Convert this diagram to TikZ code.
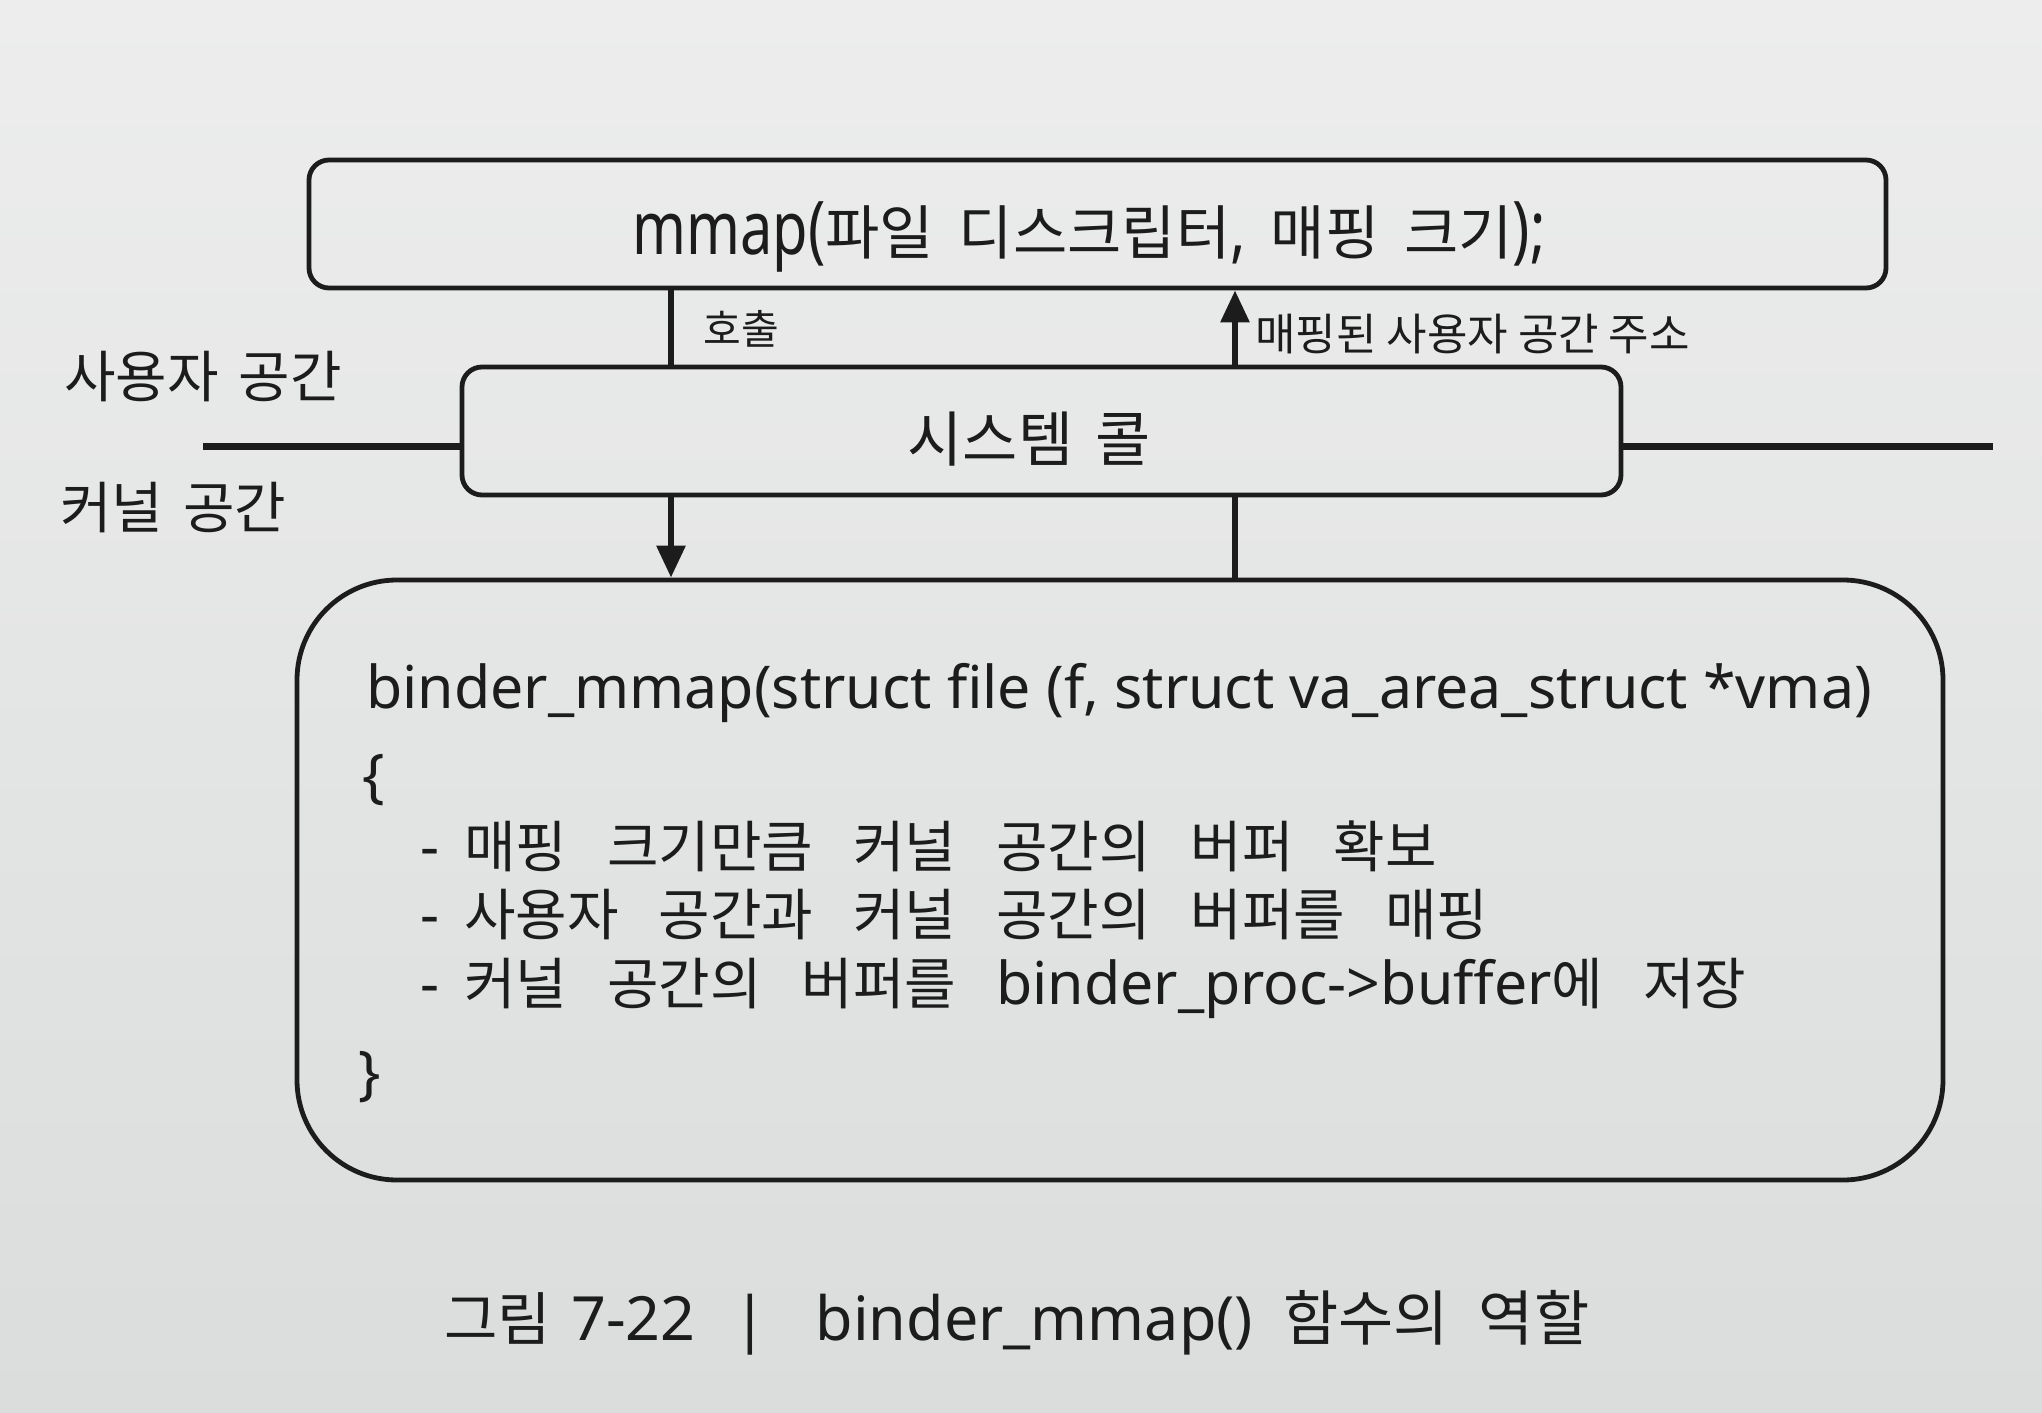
\documentclass[tikz,border=0pt]{standalone}
\usepackage{fontspec}
\setmainfont{Noto Sans}
\newfontfamily\krn{Noto Sans CJK KR}
\newfontfamily\latc[FakeStretch=0.78]{Noto Sans}
\usetikzlibrary{arrows.meta}
\definecolor{bgtop}{RGB}{236,237,236}
\definecolor{bgbot}{RGB}{219,221,221}
\definecolor{ink}{RGB}{28,28,28}
\newcommand\toplat[1]{{\latc\fontsize{37}{40}\selectfont #1}}
\newcommand\ksz[2]{\krn\fontsize{#1}{#1}\selectfont\spaceskip=#2pt\relax}
\tikzset{
  box/.style={draw=ink, line width=2.4pt, rectangle, inner sep=0pt},
  conn/.style={draw=ink, line width=3pt},
  arr/.style={-{Triangle[length=16pt,width=14pt]}},
  sepline/.style={draw=ink, line width=3.5pt},
  txt/.style={text=ink, inner sep=0pt},
}
\begin{document}
\begin{tikzpicture}[x=0.5pt,y=-0.5pt]
\useasboundingbox (0,0) rectangle (2042,1413);
\shade[top color=bgtop,bottom color=bgbot] (0,0) rectangle (2042,1413);

% boxes
\node[box, rounded corners=10pt, minimum width=788.5pt, minimum height=64pt] (top) at (1097.5,224) {};
\node[box, rounded corners=10pt, minimum width=579.5pt, minimum height=64pt] (sys) at (1041.5,431) {};
\node[box, rounded corners=50pt, minimum width=823pt, minimum height=300pt] (big) at (1120,880) {};

% texts
\node[txt, anchor=base] (toptext) at (1089,255)
  {\ksz{29.5}{12.5}\toplat{mmap(}파일 디스크립터\toplat{,} 매핑 크기\toplat{);}};
\node[txt, anchor=base] (systext) at (1029,461) {\ksz{30}{11}시스템 콜};
\node[txt, anchor=base west] (userlbl) at (64,397) {\ksz{28}{10}사용자 공간};
\node[txt, anchor=base west] (kernlbl) at (60,528) {\ksz{28}{10}커널 공간};
\node[txt, anchor=base west] (calllbl) at (703,344) {\ksz{20.5}{5}호출};
\node[txt, anchor=base west] (retlbl) at (1255,350) {\krn\fontsize{22}{26}\selectfont 매핑된 사용자 공간 주소};

\node[txt, anchor=base west] (l1) at (366,708)
  {\fontsize{29.5}{34}\selectfont binder\_mmap(struct file (f, struct va\_area\_struct *vma)};
\node[txt, anchor=west] (lb) at (362,780) {\fontsize{29.5}{34}\selectfont \{};
\node[txt, anchor=base west] (b1) at (420,867)
  {\fontsize{29.5}{34}\selectfont -\hspace{0.42em}{\ksz{28}{20}매핑 크기만큼 커널 공간의 버퍼 확보}};
\node[txt, anchor=base west] (b2) at (420,935)
  {\fontsize{29.5}{34}\selectfont -\hspace{0.42em}{\ksz{28}{20}사용자 공간과 커널 공간의 버퍼를 매핑}};
\node[txt, anchor=base west] (b3) at (420,1004)
  {\fontsize{29.5}{34}\selectfont -\hspace{0.42em}{\ksz{28}{20}커널 공간의 버퍼를 }binder\_proc->buffer{\ksz{28}{20}에 저장}};
\node[txt, anchor=west] (rb) at (358,1077) {\fontsize{29.5}{34}\selectfont \}};

\node[txt, anchor=base west] (cap) at (444,1340)
  {\fontsize{30.5}{36}\selectfont\spaceskip=15pt\relax {\krn\fontsize{29}{32}\selectfont 그림}\hspace{10pt}7-22\hspace{19.3pt}|\hspace{24pt}binder\_mmap() {\krn\fontsize{30}{32}\selectfont 함수의 역할}};

% connectors
\coordinate (cx1) at (671,0);
\coordinate (cx2) at (1235,0);
\coordinate (lend) at (203,446);
\coordinate (rend) at (1993,446);
\draw[conn] (top.south -| cx1) -- (sys.north -| cx1);
\draw[conn,arr] (sys.south -| cx1) -- (big.north -| cx1);
\draw[conn] (big.north -| cx2) -- (sys.south -| cx2);
\draw[conn,arr] (sys.north -| cx2) -- (top.south -| cx2);
\draw[sepline] (lend) -- (sys.west |- lend);
\draw[sepline] (sys.east |- rend) -- (rend);
\end{tikzpicture}
\end{document}
